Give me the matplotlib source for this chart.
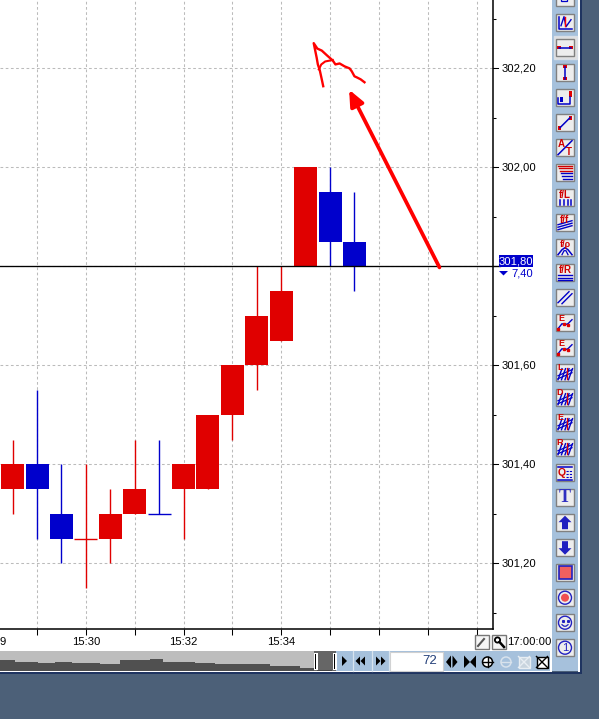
import matplotlib
matplotlib.use("Agg")
import matplotlib.pyplot as plt
from matplotlib.patches import Rectangle, Polygon, Circle

plt.rcParams['font.family'] = ['Liberation Sans', 'DejaVu Sans']

# ---- data ----
opens  = [301.35, 301.40, 301.30, 301.25, 301.25, 301.30, 301.30, 301.35, 301.35, 301.50, 301.60, 301.65, 301.80, 301.95, 301.85]
closes = [301.40, 301.35, 301.25, 301.25, 301.30, 301.35, 301.30, 301.40, 301.50, 301.60, 301.70, 301.75, 302.00, 301.85, 301.80]
highs  = [301.45, 301.55, 301.40, 301.40, 301.35, 301.45, 301.45, 301.40, 301.50, 301.60, 301.80, 301.80, 302.00, 302.00, 301.95]
lows   = [301.30, 301.25, 301.20, 301.15, 301.20, 301.30, 301.30, 301.25, 301.35, 301.45, 301.55, 301.65, 301.80, 301.80, 301.75]
is_up  = [1, 0, 0, 1, 1, 1, 0, 1, 1, 1, 1, 1, 1, 0, 0]
y_major = [301.20, 301.40, 301.60, 301.80, 302.00, 302.20]
y_ticks = [301.10, 301.20, 301.30, 301.40, 301.50, 301.60, 301.70, 301.80, 301.90, 302.00, 302.10, 302.20, 302.30]
y_labels = ["301,20", "301,40", "301,60", "302,00", "302,20"]
y_label_vals = [301.20, 301.40, 301.60, 302.00, 302.20]
x_grid = [1, 3, 5, 7, 9, 11, 13, 15, 17, 19]
x_labels = ["15:30", "15:32", "15:34"]
x_label_pos = [3, 7, 11]
last_price = 301.80
arrow_tail = (17.48, 301.798)
arrow_tip = (13.78, 302.157)
sketch_a_x = [12.72, 12.66, 12.58, 12.50, 12.45, 12.33, 12.48, 12.66, 12.88, 13.11, 13.22, 13.39, 13.60, 13.80, 13.89, 14.00, 14.09, 14.25, 14.41]
sketch_a_y = [302.164, 302.178, 302.196, 302.208, 302.222, 302.251, 302.240, 302.236, 302.226, 302.216, 302.208, 302.210, 302.204, 302.200, 302.194, 302.184, 302.182, 302.178, 302.172]
sketch_b_x = [12.54, 12.64, 12.80, 13.11]
sketch_b_y = [302.198, 302.208, 302.214, 302.217]
nav_x   = [0, 8, 15, 25, 38, 55, 72, 100, 120, 123, 150, 163, 175, 195, 215, 250, 270, 300, 314]
nav_top = [660, 659.5, 662, 662, 663, 662, 663, 663.5, 660, 660, 659, 662, 662, 663, 664, 664, 665.5, 667.5]
RED, BLUE = '#E00000', '#0000CC'
GRID = '#BBBBBB'
PANEL = '#A6C1DC'
SLATE = '#4C6078'

W, H = 599, 719
fig = plt.figure(figsize=(W/100, H/100), dpi=100, facecolor=SLATE)

bg = fig.add_axes([0, 0, 1, 1]); bg.set_xlim(0, W); bg.set_ylim(H, 0); bg.axis('off')
bg.add_patch(Rectangle((0, 0), 552, 672, fc='white', ec='none'))
bg.add_patch(Rectangle((552, 0), 26, 671, fc=PANEL, ec='none'))
bg.add_patch(Rectangle((578, 0), 1.5, 672, fc='white', ec='none'))
bg.add_patch(Rectangle((579.5, 0), 2, 674, fc='#1F3460', ec='none'))
bg.add_patch(Rectangle((336, 651), 214, 20, fc=PANEL, ec='none'))
bg.add_patch(Rectangle((0, 672), 581, 2, fc='#1F3460', ec='none'))

# ---- chart ----
L, R, T, B = 0, 492.5, 0, 629.3
ax = fig.add_axes([L/W, 1-B/H, (R-L)/W, (B-T)/H])
x0, dx = 12.6, 24.42
ppu = 495.0
y22 = 68.4
ax.set_xlim((L-x0)/dx, (R-x0)/dx)
ax.set_ylim(302.2-(B-y22)/ppu, 302.2+y22/ppu)
ax.set_facecolor('white')
for s in ('left', 'top'):
    ax.spines[s].set_visible(False)
for s in ('right', 'bottom'):
    ax.spines[s].set_linewidth(1.1)
dash = (0, (2.6, 2.4))
for v in y_major:
    ax.axhline(v, color=GRID, lw=0.75, ls=dash, zorder=1)
for v in x_grid:
    ax.axvline(v, color=GRID, lw=0.75, ls=dash, zorder=1)

ax.yaxis.tick_right()
ax.set_yticks(y_ticks, [''] * len(y_ticks))
ax.tick_params(axis='y', length=2.5, width=0.75, color='black')
for v in y_major:
    ax.plot([1, 1.011], [v, v], transform=ax.get_yaxis_transform(), color='black', lw=0.75, clip_on=False, zorder=6)
ax.set_xticks(x_grid, [''] * len(x_grid))
ax.tick_params(axis='x', length=4, width=0.75, color='black')

bw = 23/dx
for i in range(len(opens)):
    c = RED if is_up[i] else BLUE
    ax.vlines(i, lows[i], highs[i], color=c, lw=1.0, zorder=3)
    if opens[i] == closes[i]:
        ax.hlines(opens[i], i-bw/2, i+bw/2, color=c, lw=1.0, zorder=3)
    else:
        ax.bar(i, abs(closes[i]-opens[i]), bottom=min(opens[i], closes[i]), width=bw, color=c, lw=0, zorder=4)
ax.axhline(last_price, color='black', lw=0.95, zorder=5)
ax.plot([1, 1.015], [last_price]*2, transform=ax.get_yaxis_transform(), color='black', lw=0.95, clip_on=False, zorder=6)

ax.plot(sketch_a_x, sketch_a_y, color='#FF0000', lw=1.7, zorder=7, solid_joinstyle='round')
ax.plot(sketch_b_x, sketch_b_y, color='#FF0000', lw=1.5, zorder=7)
ax.annotate('', xy=arrow_tip, xytext=arrow_tail, zorder=7,
            arrowprops=dict(arrowstyle='-|>,head_length=0.8,head_width=0.35', color='#FF0000', lw=2.7,
                            shrinkA=0, shrinkB=0, mutation_scale=12))

# ---- overlay: labels, navigator and toolbar ----
ov = fig.add_axes([0, 0, 1, 1], zorder=10); ov.set_xlim(0, W); ov.set_ylim(H, 0); ov.axis('off')
FS = 8.1
for lab, v in zip(y_labels, y_label_vals):
    ov.text(501.5, y22+(302.2-v)*ppu, lab, fontsize=FS, va='center', ha='left', color='black')
for lab, p in zip(x_labels, x_label_pos):
    ov.text(x0+p*dx, 642, lab, fontsize=FS, va='center', ha='center', color='black')
ov.text(0, 642, '9', fontsize=FS, va='center', ha='left', color='black')
ov.text(507, 642, '17:00:00', fontsize=FS, va='center', ha='left', color='black')
ov.add_patch(Rectangle((499, 255), 34, 12, fc='#0000CC', ec='none'))
ov.text(516, 261, '301,80', fontsize=FS, va='center', ha='center', color='white')
ov.add_patch(Polygon([[499, 271], [508, 271], [503.5, 275.5]], fc='#0000CC', ec='none'))
ov.text(533, 273.5, '7,40', fontsize=FS, va='center', ha='right', color='#0000CC')

def btn(x, y, w, h, face='#EDEDED', edge='#808080'):
    ov.add_patch(Rectangle((x, y), w, h, fc=face, ec=edge, lw=1.0))

btn(475, 635, 13.5, 14, face='#F5F5F5', edge='#777777')
ov.plot([478, 484], [646, 639], color='#555555', lw=1.5)
btn(492, 635, 14, 14, face='#F5F5F5', edge='#777777')
ov.add_patch(Circle((497.5, 640), 2.6, fc='white', ec='black', lw=1.3))
ov.plot([499.5, 504], [642, 647], color='black', lw=1.8)

# navigator
ov.add_patch(Rectangle((0, 651), 314, 20, fc='#BDBDBD', ec='none'))
for i, tp in enumerate(nav_top):
    ov.add_patch(Rectangle((nav_x[i], tp), nav_x[i+1]-nav_x[i], 671-tp, fc='#505050', ec='none'))
ov.add_patch(Rectangle((314, 651), 22, 20, fc='#666666', ec='none'))
ov.add_patch(Rectangle((317, 669.5), 15, 1.5, fc='#444444', ec='none'))
for hx in (315, 334):
    ov.add_patch(Rectangle((hx-1.5, 653), 4, 17, fc='white', ec='none'))
    ov.add_patch(Rectangle((hx-0.2, 654), 1.6, 15, fc='black', ec='none'))
for bx in (352.5, 371.5, 389):
    ov.plot([bx, bx], [651, 671], color='#D8E4EF', lw=0.9)
ov.add_patch(Polygon([[342, 656], [342, 666], [347, 661]], fc='black', ec='none'))
for p in ([[360, 656.5], [360, 665.5], [355.5, 661]], [[365, 656.5], [365, 665.5], [360.5, 661]],
          [[376, 656.5], [376, 665.5], [380.5, 661]], [[381, 656.5], [381, 665.5], [385.5, 661]]):
    ov.add_patch(Polygon(p, fc='black', ec='none'))
ov.add_patch(Rectangle((390, 651.5), 52.5, 19, fc='white', ec='#D0D0D0', lw=0.8))
ov.text(437.5, 661, '72', fontsize=9.5, va='center', ha='right', color='#24407A')
ov.add_patch(Polygon([[451, 655.5], [451, 668], [446, 662]], fc='black', ec='none'))
ov.add_patch(Polygon([[452.5, 655.5], [452.5, 668], [457.5, 662]], fc='black', ec='none'))
ov.add_patch(Polygon([[464, 655.5], [464, 668], [470, 662]], fc='black', ec='none'))
ov.add_patch(Polygon([[476, 655.5], [476, 668], [470, 662]], fc='black', ec='none'))
for cx, col, v in ((487.5, 'black', True), (506, '#D8E2EC', False)):
    ov.add_patch(Circle((cx, 662), 5, fc='white' if v else 'none', ec=col, lw=1.1))
    ov.plot([cx-5, cx+5], [662, 662], color=col, lw=1.0)
    if v:
        ov.plot([cx, cx], [657, 667], color=col, lw=1.0)
ov.add_patch(Rectangle((518.5, 656.5), 11, 11, fc='#C8D4DE', ec='#E8EEF3', lw=1))
ov.plot([518.5, 529.5], [656.5, 667.5], color='#E8EEF3', lw=1); ov.plot([518.5, 529.5], [667.5, 656.5], color='#E8EEF3', lw=1)
ov.add_patch(Rectangle((536.5, 656.5), 11, 11, fc='white', ec='black', lw=1))
ov.plot([536.5, 547.5], [656.5, 667.5], color='black', lw=1); ov.plot([536.5, 547.5], [667.5, 656.5], color='black', lw=1)

# toolbar
CX = 565
GR = '#D00000'
BL = '#0000C8'
def t(cy, s, dx_=0, dy_=0, c=GR, fs=6.5):
    ov.text(CX+dx_, cy+dy_, s, color=c, fontsize=fs, fontweight='bold', ha='center', va='center')
def hatch(cy):
    for k in (-5, -1.5, 2, 5.5):
        ov.plot([CX+k-2, CX+k+2], [cy+7, cy-4], color=BL, lw=1.0)
    ov.plot([CX-7, CX+7], [cy+3, cy-3], color=BL, lw=0.9)
    ov.plot([CX-7, CX+7], [cy+6, cy], color=BL, lw=0.9)

for i in range(-1, 26):
    cy = 22.7+25*i
    if i == 1:
        ov.add_patch(Rectangle((CX-11.5, cy-11.5), 23, 23, fc='#E0E0E0', ec='#D8DEE6', lw=1))
    btn(CX-8.7, cy-8.7, 17.4, 17.4)
    if i == -1:
        ov.add_patch(Rectangle((CX-4, cy-2), 6, 5, fc='none', ec=BL, lw=0.9))
    elif i == 0:
        ov.plot([CX-6, CX-6, CX+7], [cy-6, cy+6, cy+6], color=BL, lw=1.1)
        ov.plot([CX-4, CX-1, CX+1, CX+6], [cy+3, cy-6, cy+4, cy-3], color=BL, lw=1.0)
        ov.plot([CX, CX], [cy-6, cy+3], color='red', lw=1.0)
    elif i == 1:
        ov.plot([CX-6, CX+6], [cy, cy], color=BL, lw=1.1)
        for s in (-1, 1):
            ov.add_patch(Rectangle((CX+s*6-1.7, cy-1.7), 3.4, 3.4, fc='#E00000', ec='none'))
    elif i == 2:
        ov.plot([CX, CX], [cy-6, cy+6], color=BL, lw=1.1)
        for s in (-1, 1):
            ov.add_patch(Rectangle((CX-1.7, cy+s*6-1.7), 3.4, 3.4, fc='#E00000', ec='none'))
    elif i == 3:
        ov.plot([CX-7, CX-7, CX+5, CX+5], [cy, cy+6, cy+6, cy-1], color=BL, lw=1.1)
        ov.add_patch(Rectangle((CX-5, cy-1), 3, 5, fc=BL, ec='none'))
        ov.add_patch(Rectangle((CX+3.5, cy-7), 3, 6, fc='#E00000', ec='none'))
    elif i == 4:
        ov.plot([CX-5, CX+5], [cy+5, cy-5], color=BL, lw=1.1)
        ov.add_patch(Rectangle((CX-7, cy+3.5), 3.4, 3.4, fc='#E00000', ec='none'))
        ov.add_patch(Rectangle((CX+4, cy-6.5), 3.4, 3.4, fc='#E00000', ec='none'))
    elif i == 5:
        ov.plot([CX-7, CX+7], [cy+7, cy-7], color=BL, lw=1.1)
        t(cy, 'A', -4, -3.5, fs=7); t(cy, 'T', 4, 4, fs=7)
    elif i == 6:
        for k, (a, c) in enumerate(zip((-7, -4.5, -2, 0.5, 3, 6), (GR, GR, GR, BL, BL, BL))):
            ov.plot([CX-7+k, CX+7], [cy+a, cy+a], color=c, lw=1.0)
    elif i == 7:
        t(cy, 'f/L', 0, -3, fs=7)
        for k in (-5, -1, 3, 6):
            ov.plot([CX+k, CX+k], [cy+2, cy+7], color=BL, lw=1.1)
    elif i == 8:
        t(cy, 'f/f', 0, -3, fs=7)
        for k in (1, 3.5, 6):
            ov.plot([CX-7, CX+7], [cy+k+1, cy+k-3], color=BL, lw=1.0)
    elif i == 9:
        t(cy, 'f/ρ', 0, -3.5, fs=6.5)
        ov.plot([CX-7, CX-3, CX, CX+3, CX+7], [cy+7, cy+2, cy, cy+2, cy+7], color=BL, lw=1.1)
        ov.plot([CX-3, CX-1, CX+1, CX+3], [cy+7, cy+3, cy+3, cy+7], color=BL, lw=0.9)
    elif i == 10:
        t(cy, 'f/R', 0, -3, fs=7)
        for k in (2.5, 5, 7.5):
            ov.plot([CX-7, CX+7], [cy+k, cy+k], color=BL, lw=1.0)
    elif i == 11:
        ov.plot([CX-7, CX+4], [cy+5, cy-6], color=BL, lw=1.0)
        ov.plot([CX-3, CX+7], [cy+6, cy-4], color=BL, lw=1.0)
    elif i == 12 or i == 13:
        ov.plot([CX-7, CX-3, CX, CX+3, CX+7], [cy+6, cy+1, cy+2, cy+1, cy-3], color=BL, lw=1.0)
        t(cy, 'E', -4, -4.5)
        ov.plot([CX-7, CX-1, CX+3], [cy+6, cy+1, cy+2], ls='', marker='s', ms=2, color='#E00000')
    elif i in (14, 15, 16, 17):
        t(cy, 'LDER'[i-14], -5, -5)
        hatch(cy)
        ov.plot([CX+2, CX+2], [cy-5, cy+6], color='#E00000', lw=0.9)
    elif i == 18:
        t(cy, 'Q', -3, 0, fs=7.5)
        for a in (-6, 7):
            ov.plot([CX-7, CX+7], [cy+a, cy+a], color=BL, lw=1.1)
        for a in (-2, 1, 4):
            ov.plot([CX+1, CX+7], [cy+a, cy+a], color=BL, lw=0.8, ls=(0, (2, 1)))
    elif i == 19:
        ov.text(CX, cy, 'T', color='#3030C0', fontsize=13, fontweight='bold', ha='center', va='center',
                family=['Liberation Serif', 'DejaVu Serif'])
    elif i in (20, 21):
        s = 1 if i == 20 else -1
        ov.add_patch(Polygon([[CX, cy-7*s], [CX+6.5, cy-0.5*s], [CX+3, cy-0.5*s], [CX+3, cy+6.5*s],
                              [CX-3, cy+6.5*s], [CX-3, cy-0.5*s], [CX-6.5, cy-0.5*s]], fc='#2020C0', ec='none'))
    elif i == 22:
        ov.add_patch(Rectangle((CX-6.5, cy-6.5), 13, 13, fc='#F06060', ec='#2020C0', lw=1.2))
    elif i == 23:
        ov.add_patch(Circle((CX, cy), 6.5, fc='none', ec='#2020C0', lw=1.0))
        ov.add_patch(Circle((CX, cy), 4, fc='#F05050', ec='none'))
    elif i == 24:
        ov.add_patch(Circle((CX, cy), 6.5, fc='none', ec='#2020C0', lw=1.0))
        ov.plot([CX-2.5, CX+2.5], [cy-1.5, cy-1.5], ls='', marker='s', ms=1.2, color='#2020C0')
        ov.plot([CX-3, CX-1, CX+1, CX+3], [cy+2, cy+3.5, cy+3.5, cy+2], color='#2020C0', lw=0.9)
    elif i == 25:
        ov.add_patch(Circle((CX, cy), 6.5, fc='none', ec='#2020C0', lw=1.0))
        ov.text(CX, cy, '1', color='#2020C0', fontsize=8, ha='center', va='center')

fig.savefig('out.png', dpi=100, facecolor=SLATE)
